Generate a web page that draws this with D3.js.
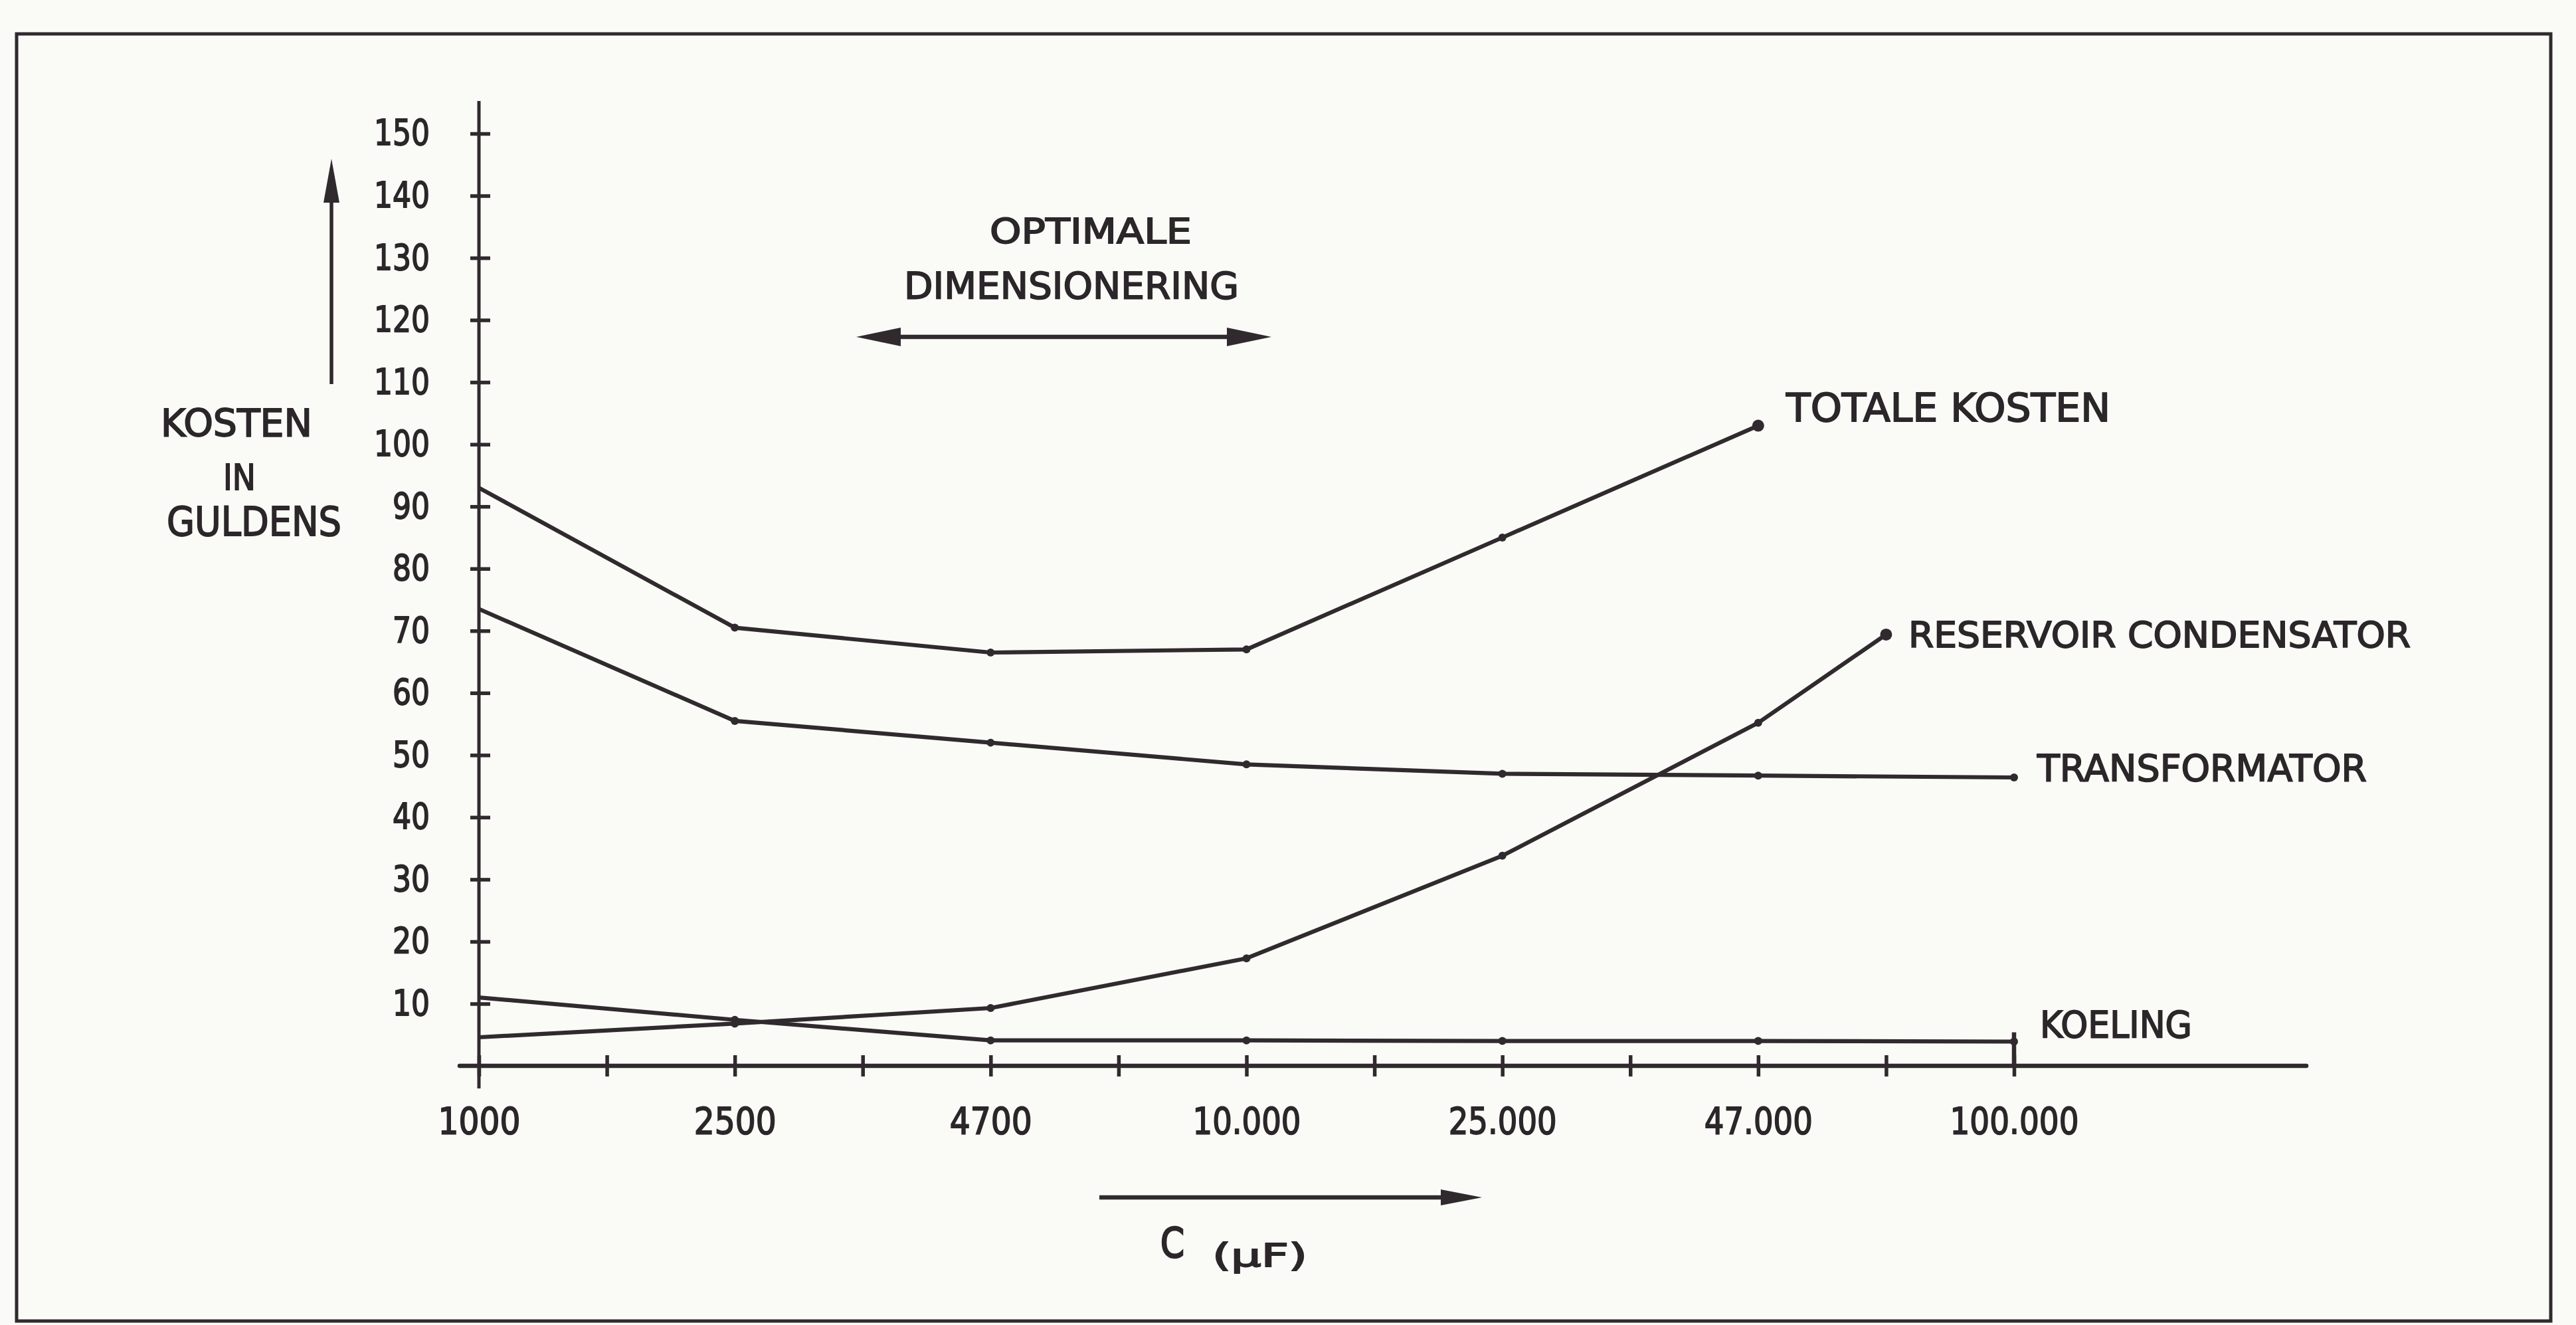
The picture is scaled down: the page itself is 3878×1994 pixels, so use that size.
<!DOCTYPE html>
<html>
<head>
<meta charset="utf-8">
<script src="https://cdn.jsdelivr.net/npm/d3@7"></script>
<style>
  html, body { margin: 0; padding: 0; background: #fafaf6; }
  svg { display: block; }
  text {
    font-family: "DejaVu Sans", "Liberation Sans", sans-serif;
    fill: #2b2629; stroke: #2b2629; stroke-width: 1.8px; paint-order: stroke;
  }
</style>
</head>
<body>
<svg id="chart" width="3878" height="1994"></svg>
<script>
// Capacitance steps (µF), drawn at equal spacing along the horizontal axis
const capacitance = ["1000", "2500", "4700", "10.000", "25.000", "47.000", "100.000"];
// Cost axis ticks (guilders)
const costTicks = [10, 20, 30, 40, 50, 60, 70, 80, 90, 100, 110, 120, 130, 140, 150];

// Costs in guilders at each capacitance step
const totaleKosten = [93, 70.5, 66.5, 67, 85, 103];
const transformator = [73.5, 55.5, 52, 48.5, 47, 46.7, 46.4];
const koeling = [11, 7.4, 4.1, 4.1, 4.0, 4.0, 3.9];
const reservoirCondensator = [4.6, 6.8, 9.3, 17.3, 33.8, 55.2, 69.4];
// The reservoir curve stops half a step past 47.000
const reservoirSteps = [0, 1, 2, 3, 4, 5, 5.5];

const ink = "#302a2e";
const svg = d3.select("#chart");

const x = d3.scaleLinear().domain([0, capacitance.length - 1]).range([721, 3032]);
const y = d3.scaleLinear().domain([0, 150]).range([1604, 201]);

// outer frame
svg.append("rect")
  .attr("x", 25).attr("y", 51).attr("width", 3815).attr("height", 1937)
  .attr("fill", "none").attr("stroke", ink).attr("stroke-width", 5);

// narrow lettering: fit a label into the width the lettering template gives it
const digitWidth = s => s.replace(/\D/g, "").length * 28 + (s.includes(".") ? 8 : 0);

// ---- vertical axis ----
const yAxis = d3.axisLeft(y).tickValues(costTicks).tickSize(12).tickPadding(62);
const gy = svg.append("g").attr("transform", `translate(${x(0)},0)`).call(yAxis);
gy.select(".domain").remove();
gy.selectAll(".tick line")
  .attr("x1", -13).attr("x2", 17)
  .attr("stroke", ink).attr("stroke-width", 5.5);
gy.selectAll(".tick text")
  .attr("font-size", 53)
  .style("font-family", '"DejaVu Sans", sans-serif')
  .attr("textLength", d => digitWidth(String(d)))
  .attr("lengthAdjust", "spacingAndGlyphs");
gy.append("line")
  .attr("x1", 0).attr("x2", 0).attr("y1", y(150) - 49).attr("y2", y(0) + 34)
  .attr("stroke", ink).attr("stroke-width", 5);

// ---- horizontal axis ----
const steps = d3.range(0, capacitance.length - 0.99, 0.5);
const xAxis = d3.axisBottom(x).tickValues(steps)
  .tickFormat(d => Number.isInteger(d) ? capacitance[d] : "")
  .tickSize(14).tickPadding(49);
const gx = svg.append("g").attr("transform", `translate(0,${y(0)})`).call(xAxis);
gx.select(".domain").remove();
gx.selectAll(".tick line")
  .attr("y1", -16).attr("y2", 16)
  .attr("stroke", ink).attr("stroke-width", 5.5);
gx.selectAll(".tick text")
  .attr("font-size", 55)
  .style("font-family", '"DejaVu Sans", sans-serif')
  .each(function (d) {
    if (!Number.isInteger(d)) return;
    const s = capacitance[d];
    d3.select(this)
      .attr("textLength", s.replace(/\D/g, "").length * 31 + (s.includes(".") ? 8 : 0))
      .attr("lengthAdjust", "spacingAndGlyphs");
  });
gx.append("line")
  .attr("x1", x(0) - 29).attr("x2", 3472).attr("y1", 0).attr("y2", 0)
  .attr("stroke", ink).attr("stroke-width", 6.5).attr("stroke-linecap", "round");

// ---- cost curves ----
const line = d3.line().x(d => x(d[0])).y(d => y(d[1]));
const series = [
  { name: "totale", pts: totaleKosten.map((v, i) => [i, v]) },
  { name: "transformator", pts: transformator.map((v, i) => [i, v]) },
  { name: "koeling", pts: koeling.map((v, i) => [i, v]) },
  { name: "reservoir", pts: reservoirCondensator.map((v, i) => [reservoirSteps[i], v]) }
];

const gs = svg.append("g");
series.forEach(s => {
  gs.append("path")
    .attr("d", line(s.pts))
    .attr("fill", "none").attr("stroke", ink)
    .attr("stroke-width", 6.2).attr("stroke-linejoin", "round");
  // small blobs where the curve was plotted
  gs.selectAll(null).data(s.pts.slice(1)).enter().append("circle")
    .attr("cx", d => x(d[0])).attr("cy", d => y(d[1]))
    .attr("r", 6).attr("fill", ink);
});

// end markers
const lastTot = totaleKosten.length - 1;
gs.append("circle").attr("cx", x(lastTot)).attr("cy", y(totaleKosten[lastTot]))
  .attr("r", 9).attr("fill", ink);
const lastRes = reservoirCondensator.length - 1;
gs.append("circle").attr("cx", x(reservoirSteps[lastRes])).attr("cy", y(reservoirCondensator[lastRes]))
  .attr("r", 9).attr("fill", ink);
const lastK = koeling.length - 1;
gs.append("line")
  .attr("x1", x(lastK)).attr("x2", x(lastK))
  .attr("y1", y(koeling[lastK]) - 14).attr("y2", y(0))
  .attr("stroke", ink).attr("stroke-width", 6.5);

// ---- labels ----
function label(txt, xPos, yPos, size, width, anchor) {
  const t = svg.append("text")
    .attr("x", xPos).attr("y", yPos)
    .attr("font-size", size)
    .attr("text-anchor", anchor || "start")
    .text(txt);
  if (width) t.attr("textLength", width).attr("lengthAdjust", "spacingAndGlyphs");
  return t;
}

label("TOTALE  KOSTEN", 2689, 634, 58, 488);
label("RESERVOIR CONDENSATOR", 2873, 974, 53, 756);
label("TRANSFORMATOR", 3067, 1175, 56, 496);
label("KOELING", 3071, 1561, 55, 229);

label("OPTIMALE", 1490, 366, 52, 304);
label("DIMENSIONERING", 1361, 449, 56, 504);

label("KOSTEN", 242, 657, 57, 228);
label("IN", 336, 737, 53, 49);
label("GULDENS", 251, 806, 60, 263);

label("C", 1747, 1892, 62, 36).style("stroke-width", "2.6px");
label("(µF)", 1825, 1906, 48, 143);

// ---- arrows ----
function arrowHead(tipX, tipY, dirX, dirY, len, half) {
  const bx = tipX - dirX * len, by = tipY - dirY * len;
  const px = -dirY * half, py = dirX * half;
  svg.append("path")
    .attr("d", `M${tipX},${tipY}L${bx + px},${by + py}L${bx - px},${by - py}Z`)
    .attr("fill", ink);
}
function shaft(x1, y1, x2, y2, w) {
  svg.append("line").attr("x1", x1).attr("y1", y1).attr("x2", x2).attr("y2", y2)
    .attr("stroke", ink).attr("stroke-width", w);
}

// cost direction arrow
shaft(499, 578, 499, 290, 5.5);
arrowHead(499, 239, 0, -1, 66, 12);

// optimal range double arrow
shaft(1340, 507, 1865, 507, 6.5);
arrowHead(1289, 507, -1, 0, 67, 14);
arrowHead(1914, 507, 1, 0, 67, 14);

// capacitance direction arrow
shaft(1655, 1802, 2180, 1802, 6.5);
arrowHead(2231, 1802, 1, 0, 62, 12);
</script>
</body>
</html>
